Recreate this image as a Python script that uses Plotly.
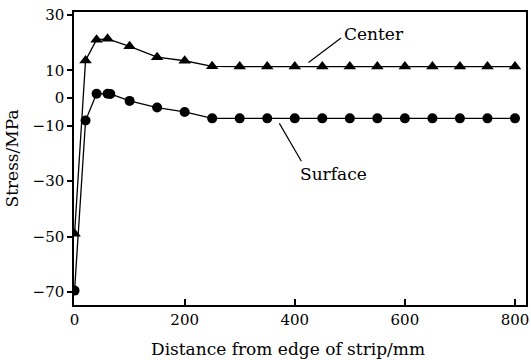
import plotly.graph_objects as go

# Data
center_x = [0, 20, 40, 60, 100, 150, 200, 250, 300, 350, 400, 450, 500, 550, 600, 650, 700, 750, 800]
center_y = [-49, 13.6, 21.1, 21.4, 18.7, 14.8, 13.5, 11.5, 11.4, 11.4, 11.4, 11.4, 11.4, 11.4, 11.4, 11.4, 11.4, 11.4, 11.4]

surface_x = [0, 20, 40, 60, 65, 100, 150, 200, 250, 300, 350, 400, 450, 500, 550, 600, 650, 700, 750, 800]
surface_y = [-69.5, -8.1, 1.6, 1.6, 1.5, -1.0, -3.4, -5.0, -7.3, -7.3, -7.3, -7.3, -7.3, -7.3, -7.3, -7.3, -7.3, -7.3, -7.3, -7.3]

x_ticks = [0, 200, 400, 600, 800]
y_ticks = [30, 10, 0, -10, -30, -50, -70]

FONT = "DejaVu Serif"

fig = go.Figure()
fig.add_trace(go.Scatter(
    x=center_x, y=center_y, mode="lines+markers", name="Center",
    line=dict(color="black", width=1.3),
    marker=dict(symbol="triangle-up", size=11, color="black"),
))
fig.add_trace(go.Scatter(
    x=surface_x, y=surface_y, mode="lines+markers", name="Surface",
    line=dict(color="black", width=1.3),
    marker=dict(symbol="circle", size=10, color="black"),
))

# leader lines for labels
fig.add_shape(type="line", xref="x", yref="y", x0=484, y0=21.7, x1=425, y1=12.9,
              line=dict(color="black", width=1.2))
fig.add_shape(type="line", xref="x", yref="y", x0=372, y0=-9.1, x1=412, y1=-22.8,
              line=dict(color="black", width=1.2))

fig.add_annotation(x=486, y=23.3, xref="x", yref="y", text="Center", showarrow=False,
                   xanchor="left", yanchor="middle", font=dict(family=FONT, size=17, color="black"))
fig.add_annotation(x=405, y=-27.5, xref="x", yref="y", text="Surface", showarrow=False,
                   xanchor="left", yanchor="middle", font=dict(family=FONT, size=17, color="black"))

# x-axis title
fig.add_annotation(x=0.4736, y=-0.150, xref="paper", yref="paper",
                   text="Distance from edge of strip/mm", showarrow=False,
                   xanchor="center", yanchor="middle", font=dict(family=FONT, size=17, color="black"))

fig.update_layout(
    width=531, height=360,
    margin=dict(l=74, r=3, t=12, b=55),
    paper_bgcolor="white", plot_bgcolor="white",
    showlegend=False,
    font=dict(family=FONT, size=15, color="black"),
)
fig.update_xaxes(
    range=[-1, 820], tickvals=x_ticks, ticks="inside", ticklen=6, tickwidth=1.5,
    tickcolor="black", showline=True, linecolor="black", linewidth=1.5, mirror=True,
    showgrid=False, zeroline=False,
)
fig.update_yaxes(
    range=[-74.7, 31.1], tickvals=y_ticks, ticks="outside", ticklen=5, tickwidth=1.5,
    tickcolor="black", showline=True, linecolor="black", linewidth=1.5, mirror=True,
    showgrid=False, zeroline=False,
    title=dict(text="Stress/MPa", font=dict(family=FONT, size=17), standoff=10),
)

fig.write_html("out.html")
